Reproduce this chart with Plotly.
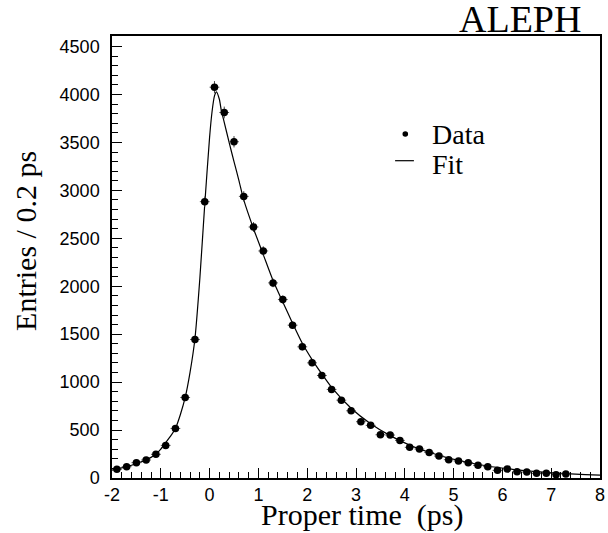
import plotly.graph_objects as go

# Measured data: bin centres (ps) and entries per 0.2 ps
t_data = [-1.9, -1.7, -1.5, -1.3, -1.1, -0.9, -0.7, -0.5, -0.3, -0.1,
          0.1, 0.3, 0.5, 0.7, 0.9, 1.1, 1.3, 1.5, 1.7, 1.9,
          2.1, 2.3, 2.5, 2.7, 2.9, 3.1, 3.3, 3.5, 3.7, 3.9,
          4.1, 4.3, 4.5, 4.7, 4.9, 5.1, 5.3, 5.5, 5.7, 5.9,
          6.1, 6.3, 6.5, 6.7, 6.9, 7.1, 7.3]
entries = [90, 118, 160, 188, 247, 340, 517, 840, 1445, 2882,
           4076, 3812, 3507, 2937, 2618, 2368, 2035, 1861, 1594, 1368,
           1201, 1069, 924, 812, 701, 587, 549, 451, 448, 392,
           320, 302, 267, 229, 191, 177, 160, 132, 118, 80,
           94, 66, 62, 49, 49, 35, 42]

# Fit curve
t_fit = [-2.0, -1.8, -1.6, -1.4, -1.2, -1.1, -1.0, -0.9, -0.8, -0.7,
         -0.6, -0.5, -0.4, -0.3, -0.2, -0.1, 0.0, 0.05, 0.1, 0.14,
         0.2, 0.24, 0.3, 0.4, 0.5, 0.6, 0.7, 0.9, 1.1, 1.3,
         1.5, 1.7, 1.9, 2.1, 2.3, 2.5, 2.9, 3.3, 3.7, 4.1,
         4.5, 4.9, 5.3, 5.7, 6.1, 6.5, 6.9, 7.3, 7.7, 8.0]
y_fit = [82, 105, 133, 168, 215, 250, 302, 370, 437, 517,
         660, 840, 1104, 1455, 2080, 2850, 3555, 3820, 3985, 4028,
         3950, 3833, 3710, 3500, 3300, 3105, 2900, 2600, 2330, 2060,
         1835, 1615, 1405, 1235, 1085, 945, 728, 566, 442, 343,
         268, 208, 162, 125, 97, 75, 58, 45, 35, 29]

# Tick labels
x_tickvals = [-2, -1, 0, 1, 2, 3, 4, 5, 6, 7, 8]
x_ticktext = ["-2", "-1", "0", "1", "2", "3", "4", "5", "6", "7", "8"]
y_tickvals = [0, 500, 1000, 1500, 2000, 2500, 3000, 3500, 4000, 4500]
y_ticktext = ["0", "500", "1000", "1500", "2000", "2500", "3000", "3500", "4000", "4500"]

x_range = [-2, 8]
y_range = [0, 4610]

SERIF = "Liberation Serif"
SANS = "Liberation Sans"

fig = go.Figure()
fig.add_trace(go.Scatter(
    x=t_fit, y=y_fit, mode="lines",
    line=dict(color="black", width=1.2, shape="spline", smoothing=0.6),
    showlegend=False, hoverinfo="skip"))
fig.add_trace(go.Scatter(
    x=t_data, y=entries, mode="markers",
    marker=dict(color="black", size=7.5, symbol="circle"),
    error_y=dict(type="sqrt", color="#444", thickness=1, width=0),
    error_x=dict(type="constant", value=0.1, color="#555", thickness=1, width=0),
    showlegend=False))

L, R, T, B = 112, 3, 36, 55
W, H = 608, 533
pw, ph = W - L - R, H - T - B

def px(xpix):
    return (xpix - L) / pw

def py(ypix):
    return (H - B - ypix) / ph

axis_common = dict(
    showline=True, linecolor="black", linewidth=1.5, mirror=True,
    ticks="inside", ticklen=10, tickwidth=1.2, tickcolor="black",
    showgrid=False, zeroline=False, ticklabeloverflow="allow",
    tickfont=dict(family=SANS, size=18, color="black"),
)

fig.update_xaxes(range=x_range, tickmode="array", tickvals=x_tickvals, ticktext=x_ticktext,
                 minor=dict(dtick=0.2, tick0=0, ticks="inside", ticklen=6, tickcolor="black", tickwidth=1),
                 ticklabelstandoff=0, **axis_common)
fig.update_yaxes(range=y_range, tickmode="array", tickvals=y_tickvals, ticktext=y_ticktext,
                 minor=dict(dtick=100, tick0=0, ticks="inside", ticklen=6, tickcolor="black", tickwidth=1),
                 ticklabelstandoff=7, **axis_common)

annotations = [
    dict(text="ALEPH", x=px(524), y=py(19), xref="paper", yref="paper",
         xanchor="center", yanchor="middle", showarrow=False,
         font=dict(family=SERIF, size=38, color="black")),
    dict(text="Proper time  (ps)", x=px(365), y=py(515), xref="paper", yref="paper",
         xanchor="center", yanchor="middle", showarrow=False,
         font=dict(family=SERIF, size=30, color="black")),
    dict(text="Entries / 0.2 ps", x=px(24), y=py(241), xref="paper", yref="paper",
         xanchor="center", yanchor="middle", showarrow=False, textangle=-90,
         font=dict(family=SERIF, size=30, color="black")),
    dict(text="Data", x=px(433), y=py(134), xref="paper", yref="paper",
         xanchor="left", yanchor="middle", showarrow=False,
         font=dict(family=SERIF, size=28, color="black")),
    dict(text="Fit", x=px(433), y=py(165), xref="paper", yref="paper",
         xanchor="left", yanchor="middle", showarrow=False,
         font=dict(family=SERIF, size=28, color="black")),
]

shapes = [
    dict(type="circle", xref="paper", yref="paper",
         xsizemode="pixel", ysizemode="pixel",
         xanchor=px(408.3), yanchor=py(134),
         x0=-2.8, x1=2.8, y0=-2.8, y1=2.8,
         fillcolor="black", line=dict(color="black", width=0)),
    dict(type="line", xref="paper", yref="paper",
         x0=px(398), x1=px(417), y0=py(160.7), y1=py(160.7),
         line=dict(color="black", width=1.2)),
]

fig.update_layout(
    width=W, height=H,
    margin=dict(l=L, r=R, t=T, b=B),
    paper_bgcolor="white", plot_bgcolor="white",
    annotations=annotations, shapes=shapes,
    showlegend=False,
)

fig.write_html("out.html", config={"displayModeBar": False},
               post_script="document.body.style.margin='0px';document.body.style.overflow='hidden';")
